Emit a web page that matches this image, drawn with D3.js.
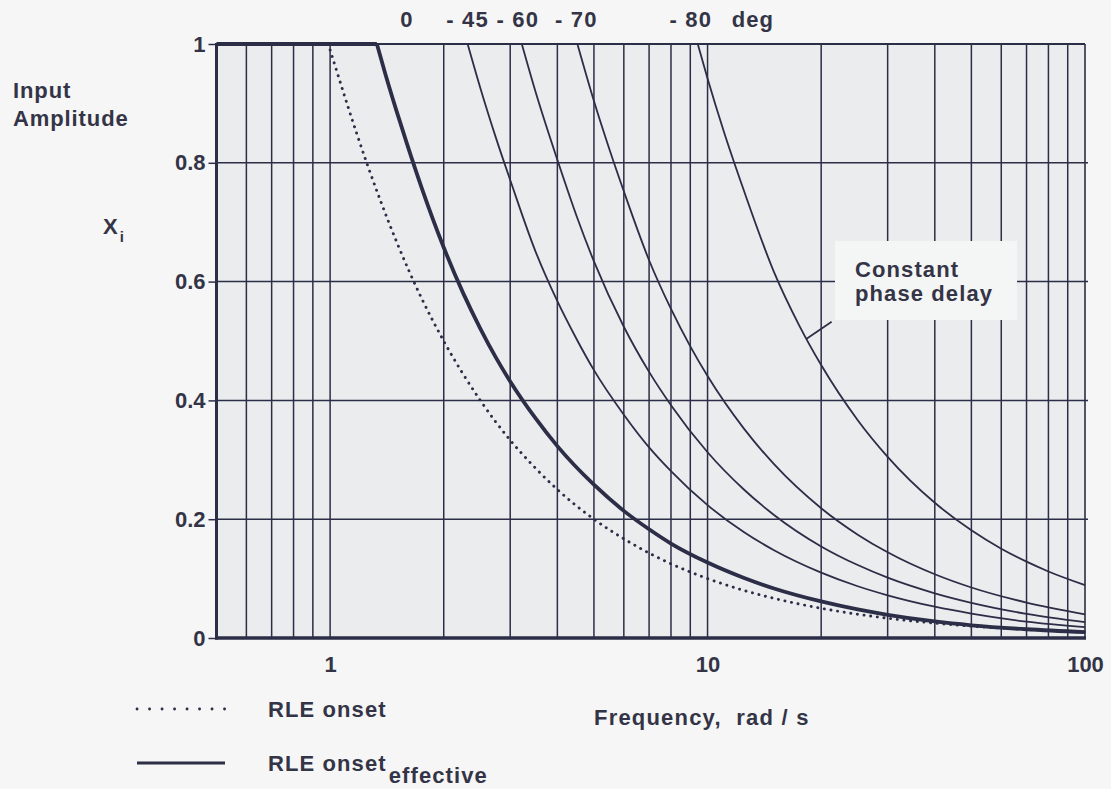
<!DOCTYPE html>
<html>
<head>
<meta charset="utf-8">
<script src="https://cdn.jsdelivr.net/npm/d3@7"></script>
<style>
  html, body { margin: 0; padding: 0; background: #f6f6f6; }
  svg { display: block; }
  text { font-family: "Liberation Sans", Arial, Helvetica, sans-serif; font-weight: bold; fill: #343447; }
</style>
</head>
<body>
<svg id="chart" width="1111" height="789"></svg>
<script>
// ---------------- data ----------------
// RLE onset (dotted)
const onsetFreq = [1, 1.25, 1.5, 1.75, 2, 2.5, 3, 3.5, 4, 5, 6, 7, 8, 10, 12.5, 15, 20, 25, 30, 40, 50, 70, 100];
const onsetAmp  = [0.99, 0.8, 0.667, 0.571, 0.5, 0.4, 0.333, 0.286, 0.25, 0.2, 0.167, 0.143, 0.125, 0.1, 0.08, 0.0667, 0.05, 0.04, 0.0333, 0.025, 0.02, 0.0143, 0.01];

// RLE onset effective (thick, 0 deg)
const effFreq = [0.5, 1.33, 1.4, 1.5, 1.6, 1.75, 2, 2.25, 2.5, 2.75, 3, 3.5, 4, 5, 6, 7, 8, 10, 12.5, 15, 20, 25, 30, 40, 50, 70, 100];
const effAmp  = [1, 1, 0.95, 0.887, 0.831, 0.757, 0.6575, 0.581, 0.521, 0.472, 0.432, 0.37, 0.323, 0.258, 0.214, 0.183, 0.159, 0.127, 0.101, 0.0833, 0.0615, 0.048, 0.039, 0.0278, 0.0214, 0.0147, 0.010];

// constant phase delay curves
const p45Freq = [2.314, 2.5, 2.75, 3, 3.5, 4, 4.5, 5, 6, 7, 8, 10, 12.5, 15, 20, 25, 30, 40, 50, 70, 100];
const p45Amp  = [1, 0.926, 0.842, 0.771, 0.651, 0.567, 0.503, 0.451, 0.376, 0.321, 0.281, 0.2236, 0.178, 0.1477, 0.11, 0.0871, 0.0719, 0.0527, 0.0411, 0.0276, 0.0183];

const p60Freq = [3.22, 3.5, 4, 4.5, 5, 6, 7, 8, 10, 12.5, 15, 20, 25, 30, 40, 50, 70, 100];
const p60Amp  = [1, 0.92, 0.805, 0.71, 0.634, 0.524, 0.448, 0.392, 0.3127, 0.2496, 0.2072, 0.1542, 0.1228, 0.1016, 0.0753, 0.0593, 0.0407, 0.0267];

const p70Freq = [4.52, 5, 5.5, 6, 7, 8, 9, 10, 12.5, 15, 20, 25, 30, 40, 50, 70, 100];
const p70Amp  = [1, 0.904, 0.822, 0.752, 0.636, 0.554, 0.491, 0.441, 0.352, 0.2926, 0.2185, 0.174, 0.1443, 0.1073, 0.085, 0.0596, 0.0398];

const p80Freq = [9.42, 10, 11, 12.5, 15, 17.5, 20, 25, 30, 40, 50, 60, 70, 80, 100];
const p80Amp  = [1, 0.942, 0.856, 0.752, 0.616, 0.526, 0.4595, 0.3667, 0.305, 0.2276, 0.1813, 0.1503, 0.1285, 0.112, 0.089];

const phaseLabels = ["0", "- 45", "- 60", "- 70", "- 80"];
const phaseUnit = "deg";

const xTickLabels = [1, 10, 100];
const yTickValues = [0, 0.2, 0.4, 0.6, 0.8, 1];

const legendLabels = ["RLE onset", "RLE onset"];
const legendSub = "effective";
const xTitle = "Frequency,  rad / s";
const yTitle = ["Input", "Amplitude"];
const annotation = ["Constant", "phase delay"];

// ---------------- layout ----------------
const INK = "#2c2d47";
const svg = d3.select("#chart");
const x = d3.scaleLog().domain([0.5, 100]).range([216.5, 1085]);
const y = d3.scaleLinear().domain([0, 1]).range([638, 44]);
const zip = (a, b) => a.map((v, i) => [v, b[i]]);

// plot background
svg.append("rect")
  .attr("x", x(0.5)).attr("y", y(1))
  .attr("width", x(100) - x(0.5)).attr("height", y(0) - y(1))
  .attr("fill", "#eaeced");

// grid
const grid = svg.append("g").attr("stroke", INK).attr("stroke-width", 1.5);
grid.selectAll("line.v").data(x.ticks().filter(d => d > 0.5 && d < 100))
  .join("line").attr("class", "v")
  .attr("x1", d => x(d)).attr("x2", d => x(d))
  .attr("y1", y(0)).attr("y2", y(1));
grid.selectAll("line.h").data(yTickValues.filter(d => d > 0 && d < 1))
  .join("line").attr("class", "h")
  .attr("x1", x(0.5)).attr("x2", x(100) + 3)
  .attr("y1", d => y(d)).attr("y2", d => y(d));

// annotation box (blanks the grid behind the label)
svg.append("rect")
  .attr("x", 835).attr("y", 241).attr("width", 182).attr("height", 79)
  .attr("fill", "#f4f5f5");

// axes
const yAxis = d3.axisLeft(y).tickValues(yTickValues).tickFormat(d3.format("")).tickSize(8).tickPadding(3);
const gy = svg.append("g").attr("transform", `translate(${x(0.5)},0)`).call(yAxis);
gy.select(".domain").remove();
gy.selectAll(".tick line").attr("stroke", INK).attr("stroke-width", 1.5);
gy.selectAll(".tick text").attr("font-size", 22).attr("fill", "#343447")
  .attr("font-family", null);

const xAxis = d3.axisBottom(x).tickValues(xTickLabels).tickFormat(d3.format("")).tickSize(0);
const gx = svg.append("g").attr("transform", `translate(0,${y(0)})`).call(xAxis);
gx.select(".domain").remove();
gx.selectAll(".tick text").attr("font-size", 22).attr("fill", "#343447")
  .attr("font-family", null).attr("dy", null).attr("y", 34);

// frame
const frame = svg.append("g").attr("stroke", INK).attr("fill", "none");
frame.append("line").attr("x1", x(0.5)).attr("x2", x(100)).attr("y1", y(1)).attr("y2", y(1)).attr("stroke-width", 2);
frame.append("line").attr("x1", x(100)).attr("x2", x(100)).attr("y1", y(1)).attr("y2", y(0)).attr("stroke-width", 1.6);
frame.append("line").attr("x1", x(0.5)).attr("x2", x(0.5)).attr("y1", y(1) - 1).attr("y2", y(0) + 1.5).attr("stroke-width", 3);
frame.append("line").attr("x1", x(0.5) - 1.5).attr("x2", x(100) + 1).attr("y1", y(0)).attr("y2", y(0)).attr("stroke-width", 3.5);

// curves
const line = d3.line().x(d => x(d[0])).y(d => y(d[1])).curve(d3.curveMonotoneX);
const lin = d3.line().x(d => x(d[0])).y(d => y(d[1]));
const curves = svg.append("g").attr("fill", "none").attr("stroke", INK);

// phase curves (thin)
const phaseSeries = [zip(p45Freq, p45Amp), zip(p60Freq, p60Amp), zip(p70Freq, p70Amp), zip(p80Freq, p80Amp)];
curves.selectAll("path.phase").data(phaseSeries).join("path").attr("class", "phase")
  .attr("d", line).attr("stroke-width", 1.8);

// RLE onset (dotted)
curves.append("path").attr("d", line(zip(onsetFreq, onsetAmp)))
  .attr("stroke-width", 2.9).attr("stroke-linecap", "round").attr("stroke-dasharray", "0.1 6.6");

// RLE onset effective (thick): flat part + decaying part (sharp knee)
const eff = zip(effFreq, effAmp);
const knee = eff.findIndex((d, i) => i > 0 && d[1] < 1) - 1;
curves.append("path").attr("d", lin(eff.slice(0, knee + 1))).attr("stroke-width", 3.8);
curves.append("path").attr("d", line(eff.slice(knee))).attr("stroke-width", 3.8);

// phase labels above the plot
const startFreqs = [effFreq[knee], p45Freq[0], p60Freq[0], p70Freq[0], p80Freq[0]];
const nudge = [30, 0, -4, -1, -7];
svg.selectAll("text.phase").data(phaseLabels).join("text").attr("class", "phase")
  .attr("x", (d, i) => x(startFreqs[i]) + nudge[i]).attr("y", 27)
  .attr("text-anchor", "middle").attr("font-size", 22)
  .style("white-space", "pre").attr("letter-spacing", 1.2).text(d => d);
svg.append("text").attr("x", x(p80Freq[0]) + 34).attr("y", 27)
  .attr("font-size", 22).attr("letter-spacing", 1).text(phaseUnit);

// annotation + leader
const annF = 18.3;
const annY = d3.scaleLog().domain(p80Freq).range(p80Amp)(annF);
const ax0 = x(annF), ay0 = y(annY);
svg.append("line").attr("x1", ax0).attr("y1", ay0).attr("x2", ax0 + 25).attr("y2", ay0 - 17)
  .attr("stroke", INK).attr("stroke-width", 1.7);
svg.selectAll("text.ann").data(annotation).join("text").attr("class", "ann")
  .attr("x", 855).attr("y", (d, i) => 277 + i * 24)
  .attr("font-size", 22).attr("letter-spacing", 1.1).text(d => d);

// y title
svg.selectAll("text.yt").data(yTitle).join("text").attr("class", "yt")
  .attr("x", 13).attr("y", (d, i) => 98 + i * 28)
  .attr("font-size", 22).attr("letter-spacing", 0.9).text(d => d);
const xi = svg.append("text").attr("x", 103).attr("y", 234).attr("font-size", 22);
xi.append("tspan").text("X");
xi.append("tspan").attr("font-size", 15).attr("dx", 2).attr("dy", 8).text("i");

// x title
svg.append("text").attr("x", 594).attr("y", 725).attr("font-size", 22)
  .attr("letter-spacing", 1.2).style("white-space", "pre").text(xTitle);

// legend
const leg = svg.append("g");
leg.append("line").attr("x1", 137).attr("x2", 226).attr("y1", 709).attr("y2", 709)
  .attr("stroke", INK).attr("stroke-width", 2.8).attr("stroke-linecap", "round").attr("stroke-dasharray", "0.1 12.4");
leg.append("line").attr("x1", 137).attr("x2", 225).attr("y1", 763).attr("y2", 763)
  .attr("stroke", INK).attr("stroke-width", 3);
leg.append("text").attr("x", 268).attr("y", 717).attr("font-size", 22).attr("letter-spacing", 1.1).text(legendLabels[0]);
const l2 = leg.append("text").attr("x", 268).attr("y", 771).attr("font-size", 22).attr("letter-spacing", 1.1);
l2.append("tspan").text(legendLabels[1]);
l2.append("tspan").attr("dx", 2).attr("dy", 12).text(legendSub);
</script>
</body>
</html>
